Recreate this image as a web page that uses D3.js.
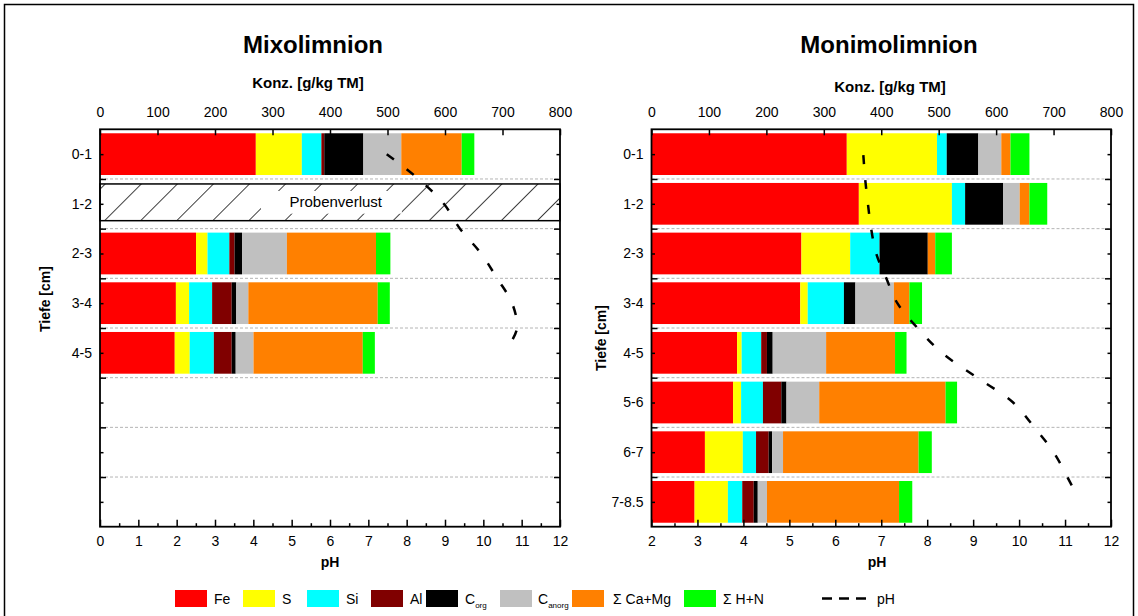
<!DOCTYPE html>
<html><head><meta charset="utf-8">
<script src="https://cdn.jsdelivr.net/npm/d3@7"></script>
<style>
body{margin:0;background:#fff;}
svg{display:block;font-family:"Liberation Sans",Arial,sans-serif;}
</style></head>
<body><svg id="chart" width="1138" height="616"></svg>
<script>
// ---------- DATA ----------
const components = ["Fe","S","Si","Al","Corg","Canorg","CaMg","HN"];
const componentColors = ["#ff0000","#ffff00","#00ffff","#800000","#000000","#c0c0c0","#ff8000","#00ff00"];

// Mixolimnion (row 1-2 = Probenverlust, rows 6-8 empty)
const mixoLabels = ["0-1","1-2","2-3","3-4","4-5","","",""];
const mixoFe     = [271, null, 167, 132, 130];
const mixoS      = [80,  null, 20,  23,  26];
const mixoSi     = [34,  null, 38,  40,  42];
const mixoAl     = [5,   null, 9,   34,  31];
const mixoCorg   = [68,  null, 13,  8,   7];
const mixoCanorg = [66,  null, 78,  21,  31];
const mixoCaMg   = [105, null, 155, 225, 190];
const mixoHN     = [22,  null, 25,  21,  21];
const mixoLossRow = 1;
const mixoPhDepth = [0.5, 1.0, 1.5, 2.0, 2.5, 3.0, 3.5, 4.0, 4.3];
const mixoPh      = [7.48, 8.31, 8.97, 9.39, 9.94, 10.36, 10.75, 10.88, 10.71];

// Monimolimnion
const monoLabels = ["0-1","1-2","2-3","3-4","4-5","5-6","6-7","7-8.5"];
const monoFe     = [340, 361, 261, 259, 149, 142, 93,  75];
const monoS      = [157, 162, 85,  13,  8,   14,  66,  58];
const monoSi     = [17,  23,  51,  63,  34,  38,  23,  25];
const monoAl     = [0,   0,   0,   0,   10,  32,  22,  20];
const monoCorg   = [55,  66,  84,  20,  10,  9,   6,   7];
const monoCanorg = [40,  29,  0,   67,  93,  57,  19,  16];
const monoCaMg   = [16,  17,  13,  27,  120, 220, 236, 230];
const monoHN     = [33,  31,  29,  22,  20,  20,  23,  23];
const monoPhDepth = [0.52, 1.0, 1.5, 2.0, 2.5, 3.0, 3.5, 4.0, 4.5, 5.0, 5.5, 6.0, 6.5, 7.0, 7.32];
const monoPh      = [6.61, 6.65, 6.71, 6.78, 6.89, 7.11, 7.35, 7.79, 8.32, 9.09, 9.87, 10.33, 10.75, 11.05, 11.23];

const concTicks = [0,100,200,300,400,500,600,700,800];

// ---------- DRAW ----------
const svg = d3.select("#chart");
const FONT = "Liberation Sans, Arial, sans-serif";

// outer frame
svg.append("rect").attr("x",4.5).attr("y",4.5).attr("width",1129).attr("height",640)
  .attr("fill","none").attr("stroke","#000").attr("stroke-width",1.5);

// hatch pattern
const defs = svg.append("defs");
const pat = defs.append("pattern").attr("id","hatch").attr("patternUnits","userSpaceOnUse")
  .attr("width",25.5).attr("height",25.5).attr("patternTransform","rotate(45)");
pat.append("line").attr("x1",0).attr("y1",0).attr("x2",0).attr("y2",25.5)
  .attr("stroke","#000").attr("stroke-width",1.5);

function drawPanel(cfg){
  const g = svg.append("g");
  const x = d3.scaleLinear().domain([0,800]).range([cfg.x0, cfg.x1]);
  const xp = d3.scaleLinear().domain(cfg.phDomain).range([cfg.x0, cfg.x1]);
  const yd = d3.scaleLinear().domain([0,8]).range([cfg.y0, cfg.y1]);
  const yb = d3.scaleBand().domain(d3.range(8)).range([cfg.y0, cfg.y1]).paddingInner(0.16).paddingOuter(0.08);

  // grid lines at row boundaries
  g.append("g").selectAll("line").data(d3.range(1,8)).join("line")
    .attr("x1",cfg.x0).attr("x2",cfg.x1).attr("y1",d=>yd(d)).attr("y2",d=>yd(d))
    .attr("stroke","#b4b4b4").attr("stroke-width",1).attr("stroke-dasharray","3,2");

  // stacked bars
  const rows = cfg.series[0].map((_,i)=>i);
  rows.forEach(i=>{
    if (cfg.series[0][i]==null) return;
    let acc = 0;
    cfg.series.forEach((s,k)=>{
      const v = s[i];
      if (v>0){
        g.append("rect").attr("x",x(acc)).attr("y",yb(i))
          .attr("width",x(acc+v)-x(acc)).attr("height",yb.bandwidth())
          .attr("fill",componentColors[k]);
      }
      acc += v;
    });
  });

  // Probenverlust
  if (cfg.lossRow!=null){
    const ly = yb(cfg.lossRow)+1, lh = yb.bandwidth()-5;
    g.append("rect").attr("x",cfg.x0).attr("y",ly).attr("width",cfg.x1-cfg.x0).attr("height",lh)
      .attr("fill","url(#hatch)").attr("stroke","#000").attr("stroke-width",1.5);
    g.append("rect").attr("x",x(280)).attr("y",ly+7).attr("width",x(525)-x(280)).attr("height",lh-14)
      .attr("fill","#fff");
    g.append("text").attr("x",x(410)).attr("y",ly+lh/2+5).attr("text-anchor","middle")
      .attr("font-size",15).attr("font-family",FONT).text("Probenverlust");
  }

  // pH line
  const line = d3.line().x(d=>xp(d[1])).y(d=>yd(d[0])).curve(d3.curveCatmullRom);
  g.append("path").datum(cfg.phDepth.map((d,i)=>[d,cfg.ph[i]]))
    .attr("d",line).attr("fill","none").attr("stroke","#000").attr("stroke-width",2.5)
    .attr("stroke-dasharray","9,16");

  // frame
  g.append("rect").attr("x",cfg.x0).attr("y",cfg.y0).attr("width",cfg.x1-cfg.x0).attr("height",cfg.y1-cfg.y0)
    .attr("fill","none").attr("stroke","#000").attr("stroke-width",1.8);

  const styleAxis = sel => {
    sel.select(".domain").remove();
    sel.selectAll("line").attr("stroke","#000").attr("stroke-width",1.5);
    sel.selectAll("text").attr("font-size",14).attr("font-family",FONT).attr("fill","#000");
  };

  // top axis (concentration)
  g.append("g").attr("transform",`translate(0,${cfg.y0})`)
    .call(d3.axisTop(x).tickValues(concTicks).tickSize(-6).tickPadding(12).tickFormat(d3.format("d")))
    .call(styleAxis);

  // bottom axis (pH)
  const phMajor = d3.range(cfg.phDomain[0], cfg.phDomain[1]+0.01, 1);
  const phMinor = d3.range(cfg.phDomain[0]+0.5, cfg.phDomain[1], 1);
  g.append("g").attr("transform",`translate(0,${cfg.y1})`)
    .call(d3.axisBottom(xp).tickValues(phMajor).tickSize(-7).tickPadding(9).tickFormat(d3.format("d")))
    .call(styleAxis);
  g.append("g").attr("transform",`translate(0,${cfg.y1})`)
    .call(d3.axisBottom(xp).tickValues(phMinor).tickSize(-3.5).tickFormat(""))
    .call(styleAxis);

  // left axis
  g.append("g").attr("transform",`translate(${cfg.x0},0)`)
    .call(d3.axisLeft(yd).tickValues(d3.range(1,8)).tickSize(-6).tickFormat(""))
    .call(styleAxis);
  g.append("g").attr("transform",`translate(${cfg.x0},0)`)
    .call(d3.axisLeft(yd).tickValues(d3.range(0.5,8,1)).tickSize(-3.5).tickPadding(8)
      .tickFormat((d,i)=>cfg.labels[i]))
    .call(styleAxis);
  // right axis
  g.append("g").attr("transform",`translate(${cfg.x1},0)`)
    .call(d3.axisRight(yd).tickValues(d3.range(1,8)).tickSize(-6).tickFormat(""))
    .call(styleAxis);
  g.append("g").attr("transform",`translate(${cfg.x1},0)`)
    .call(d3.axisRight(yd).tickValues(d3.range(0.5,8,1)).tickSize(-3.5).tickFormat(""))
    .call(styleAxis);

  // titles
  g.append("text").attr("x",cfg.titleX).attr("y",53).attr("text-anchor","middle")
    .attr("font-size",24).attr("font-weight","bold").attr("font-family",FONT).text(cfg.title);
  g.append("text").attr("x",cfg.konzX).attr("y",cfg.konzY).attr("text-anchor","middle")
    .attr("font-size",15).attr("font-weight","bold").attr("font-family",FONT).text("Konz. [g/kg TM]");
  g.append("text").attr("x",cfg.phX).attr("y",567).attr("text-anchor","middle")
    .attr("font-size",14).attr("font-weight","bold").attr("font-family",FONT).text("pH");
  g.append("text").attr("transform",`translate(${cfg.tiefeX},${cfg.tiefeY}) rotate(-90)`)
    .attr("text-anchor","middle").attr("font-size",14).attr("font-weight","bold")
    .attr("font-family",FONT).text("Tiefe [cm]");
}

drawPanel({
  x0:100, x1:560, y0:129.3, y1:526.7, phDomain:[0,12],
  series:[mixoFe,mixoS,mixoSi,mixoAl,mixoCorg,mixoCanorg,mixoCaMg,mixoHN],
  labels:mixoLabels, lossRow:mixoLossRow, phDepth:mixoPhDepth, ph:mixoPh,
  title:"Mixolimnion", titleX:313, konzX:308, konzY:88, phX:330, tiefeX:50, tiefeY:299
});
drawPanel({
  x0:651.5, x1:1111, y0:129.3, y1:526.7, phDomain:[2,12],
  series:[monoFe,monoS,monoSi,monoAl,monoCorg,monoCanorg,monoCaMg,monoHN],
  labels:monoLabels, lossRow:null, phDepth:monoPhDepth, ph:monoPh,
  title:"Monimolimnion", titleX:889, konzX:890, konzY:92, phX:877, tiefeX:606, tiefeY:338
});

// legend
const legendItems = [
  {name:"Fe", sub:null, x:175, tx:214},
  {name:"S", sub:null, x:243, tx:282},
  {name:"Si", sub:null, x:307, tx:346},
  {name:"Al", sub:null, x:371, tx:410},
  {name:"C", sub:"org", x:426, tx:465},
  {name:"C", sub:"anorg", x:500, tx:538},
  {name:"\u03A3 Ca+Mg", sub:null, x:572, tx:613},
  {name:"\u03A3 H+N", sub:null, x:684, tx:723}
];
const lg = svg.append("g");
legendItems.forEach((it,k)=>{
  lg.append("rect").attr("x",it.x).attr("y",590).attr("width",32).attr("height",17)
    .attr("fill",componentColors[k]);
  const t = lg.append("text").attr("x",it.tx).attr("y",604).attr("font-size",14)
    .attr("font-family",FONT).text(it.name);
  if (it.sub) t.append("tspan").attr("font-size",8).attr("dy",4).text(it.sub);
});
lg.append("line").attr("x1",822).attr("x2",866).attr("y1",598.5).attr("y2",598.5)
  .attr("stroke","#000").attr("stroke-width",2.5).attr("stroke-dasharray","10,7");
lg.append("text").attr("x",877).attr("y",604).attr("font-size",14).attr("font-family",FONT).text("pH");
</script></body></html>
